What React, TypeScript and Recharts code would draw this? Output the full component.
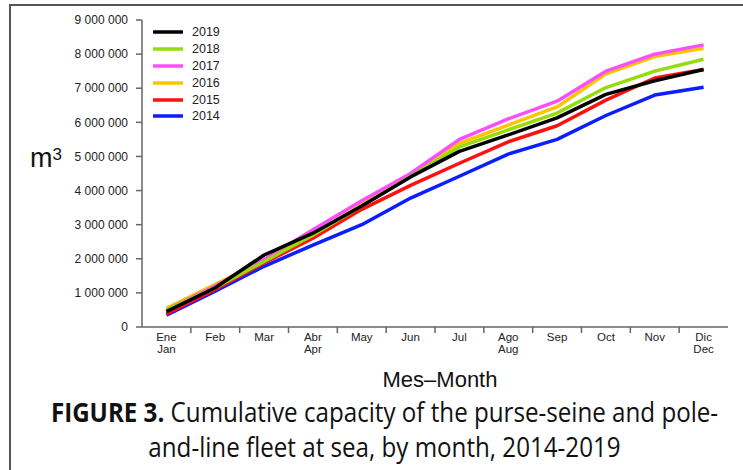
import React from 'react';
import { LineChart, Line, XAxis, YAxis, Legend } from 'recharts';

// Month labels (Spanish / English)
const monthsEs = ['Ene', 'Feb', 'Mar', 'Abr', 'May', 'Jun', 'Jul', 'Ago', 'Sep', 'Oct', 'Nov', 'Dic'];
const monthsEn = ['Jan', '', '', 'Apr', '', '', '', 'Aug', '', '', '', 'Dec'];

// Cumulative capacity (m3)
const y2014 = [350000, 1050000, 1780000, 2400000, 3000000, 3780000, 4420000, 5070000, 5500000, 6200000, 6800000, 7030000];
const y2015 = [380000, 1100000, 1880000, 2600000, 3450000, 4150000, 4800000, 5430000, 5900000, 6650000, 7300000, 7550000];
const y2016 = [550000, 1250000, 1950000, 2700000, 3600000, 4450000, 5380000, 5920000, 6450000, 7420000, 7930000, 8170000];
const y2017 = [500000, 1200000, 1980000, 2850000, 3700000, 4500000, 5500000, 6100000, 6620000, 7500000, 8000000, 8270000];
const y2018 = [500000, 1150000, 1920000, 2700000, 3550000, 4420000, 5280000, 5780000, 6270000, 7020000, 7500000, 7850000];
const y2019 = [450000, 1150000, 2110000, 2750000, 3550000, 4400000, 5150000, 5630000, 6130000, 6820000, 7220000, 7550000];

const yTicks = [0, 1000000, 2000000, 3000000, 4000000, 5000000, 6000000, 7000000, 8000000, 9000000];

const series = [
  { key: 'y2014', name: '2014', values: y2014, color: '#0a1eff' },
  { key: 'y2015', name: '2015', values: y2015, color: '#ff1010' },
  { key: 'y2016', name: '2016', values: y2016, color: '#ffc400' },
  { key: 'y2017', name: '2017', values: y2017, color: '#ff4cff' },
  { key: 'y2018', name: '2018', values: y2018, color: '#95dc0a' },
  { key: 'y2019', name: '2019', values: y2019, color: '#000000' },
];

const data = monthsEs.map((m, i) => {
  const row: any = { month: m, en: monthsEn[i] };
  series.forEach(s => { row[s.key] = s.values[i]; });
  return row;
});

const FONT = '"Liberation Sans", Arial, sans-serif';
const CAPTION_FONT = '"Open Sans", sans-serif';
const AXIS = '#666666';
const CHART_W = 743;
const CHART_H = 370;
const MARGIN = { top: 20, right: 15, bottom: 0, left: 0 };
const Y_AXIS_W = 142;
const X_AXIS_H = 43;
const PLOT_W = CHART_W - MARGIN.left - MARGIN.right - Y_AXIS_W;
const HALF_BAND = PLOT_W / monthsEs.length / 2;

const fmt = (v: number) => String(v).replace(/\B(?=(\d{3})+(?!\d))/g, ' ');

// Tick label on band centre, tick mark on band boundary
const MonthTick = ({ x, y, payload }: any) => {
  const i = payload.index;
  const en = monthsEn[i];
  return (
    <g>
      {i < monthsEs.length - 1 && (
        <line x1={x + HALF_BAND} x2={x + HALF_BAND} y1={y - 8} y2={y - 2} stroke={AXIS} strokeWidth={1.5} />
      )}
      <text x={x} y={y + 6} textAnchor="middle" fontFamily={FONT} fontSize={11.5} fill="#222">
        {payload.value}
      </text>
      {en && (
        <text x={x} y={y + 18} textAnchor="middle" fontFamily={FONT} fontSize={11.5} fill="#222">
          {en}
        </text>
      )}
    </g>
  );
};

const LegendContent = ({ payload }: any) => {
  const items = [...(payload || [])].reverse();
  return (
    <div style={{ fontFamily: FONT, fontSize: 12.5, color: '#222' }}>
      {items.map((it: any) => (
        <div key={it.value} style={{ height: 16.8, display: 'flex', alignItems: 'center' }}>
          <svg width={32} height={6} style={{ marginRight: 8 }}>
            <line x1={1} x2={31} y1={3} y2={3} stroke={it.color} strokeWidth={3.5} />
          </svg>
          <span>{it.value}</span>
        </div>
      ))}
    </div>
  );
};

export default function App() {
  return (
    <div style={{ position: 'absolute', top: 0, left: 0, width: 743, height: 470, overflow: 'hidden', background: '#fff' }}>
      <div style={{ position: 'absolute', top: 4, left: 9, width: 800, height: 500, borderTop: '2px solid #555', borderLeft: '2px solid #555' }} />
      <div style={{ position: 'absolute', top: 0, left: 0 }}>
        <LineChart width={CHART_W} height={CHART_H} data={data} margin={MARGIN}>
          <XAxis
            dataKey="month"
            scale="band"
            height={X_AXIS_H}
            interval={0}
            tickLine={false}
            axisLine={{ stroke: AXIS, strokeWidth: 1.5 }}
            tick={<MonthTick />}
          />
          <XAxis xAxisId="top" dataKey="month" scale="band" orientation="top" height={0} tick={false} tickLine={false} axisLine={{ stroke: AXIS, strokeWidth: 1.5 }} />
          <YAxis
            width={Y_AXIS_W}
            domain={[0, 9000000]}
            ticks={yTicks}
            interval={0}
            tickFormatter={fmt}
            tickSize={6}
            tickMargin={8}
            tick={{ fontFamily: FONT, fontSize: 12, fill: '#222' }}
            tickLine={{ stroke: AXIS, strokeWidth: 1.5 }}
            axisLine={{ stroke: AXIS, strokeWidth: 1.5 }}
          />
          <YAxis yAxisId="right" orientation="right" width={0} domain={[0, 9000000]} tick={false} tickLine={false} axisLine={{ stroke: AXIS, strokeWidth: 1.5 }} />
          <Legend
            layout="vertical"
            align="center"
            verticalAlign="middle"
            wrapperStyle={{ top: 24, left: 152, width: 100 }}
            content={<LegendContent />}
          />
          {series.map(s => (
            <Line
              key={s.key}
              type="linear"
              dataKey={s.key}
              name={s.name}
              stroke={s.color}
              strokeWidth={3.5}
              strokeLinejoin="round"
              dot={false}
              isAnimationActive={false}
            />
          ))}
        </LineChart>
      </div>
      <div style={{ position: 'absolute', left: 30, top: 143, fontFamily: FONT, fontSize: 27, color: '#111', lineHeight: '30px' }}>
        m<span style={{ fontSize: 17, verticalAlign: 'top', position: 'relative', top: -3 }}>3</span>
      </div>
      <div style={{ position: 'absolute', left: 440, top: 367, transform: 'translateX(-50%)', fontFamily: FONT, fontSize: 22, color: '#111', whiteSpace: 'nowrap' }}>
        Mes–Month
      </div>
      <svg style={{ position: 'absolute', left: 0, top: 385 }} width={743} height={85}>
        <g transform="translate(384.5,0) scale(0.895,1)">
          <text x={0} y={37} textAnchor="middle" fontFamily={CAPTION_FONT} fontSize={27} fill="#111">
            <tspan fontWeight="bold">FIGURE 3.</tspan> Cumulative capacity of the purse-seine and pole-
          </text>
          <text x={0} y={72} textAnchor="middle" fontFamily={CAPTION_FONT} fontSize={27} fill="#111">
            and-line fleet at sea, by month, 2014-2019
          </text>
        </g>
      </svg>
    </div>
  );
}
